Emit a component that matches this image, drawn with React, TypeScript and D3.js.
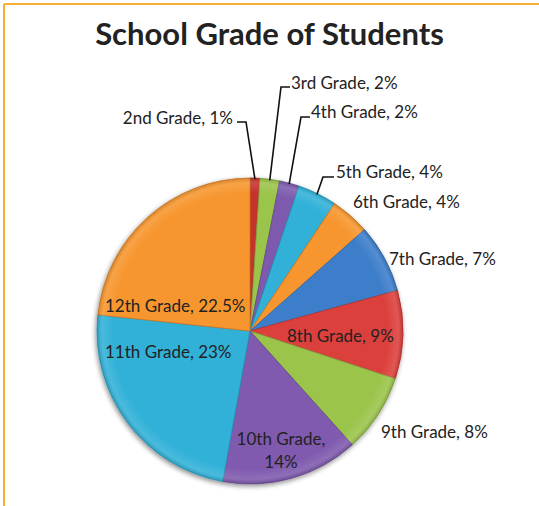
import React from "react";
import * as d3 from "d3";

const grades = ["2nd Grade", "3rd Grade", "4th Grade", "5th Grade", "6th Grade", "7th Grade", "8th Grade", "9th Grade", "10th Grade", "11th Grade", "12th Grade"];
const percents = [1, 2, 2, 4, 4, 7, 9, 8, 14, 23, 22.5];
const colors = ["#C8312C", "#9BC44B", "#7D5AAE", "#30B1D8", "#F7962F", "#3E7ECB", "#DC403C", "#9BC44B", "#7F5AAE", "#30B1D8", "#F7962F"];

// label layout: text start x, baseline y, optional leader (elbow x,y and end x)
const labelLayout: { x: number; y: number; anchor?: string; lines?: number; leader?: [number, number, number] }[] = [
  { x: 233, y: 124, anchor: "end", leader: [246, 122, 237] },
  { x: 291, y: 89, leader: [281, 87, 290] },
  { x: 311, y: 118, leader: [301, 117, 310] },
  { x: 336, y: 178, leader: [323, 177, 334] },
  { x: 353, y: 208 },
  { x: 389, y: 265 },
  { x: 287, y: 342 },
  { x: 381, y: 438 },
  { x: 281, y: 445, anchor: "middle", lines: 2 },
  { x: 105, y: 358 },
  { x: 105, y: 312 },
];

const W = 539, H = 506;
const cx = 250, cy = 331, R = 153;

export default function App() {
  const pie = d3.pie<number>().sort(null).startAngle(0).endAngle(2 * Math.PI).value((d) => d);
  const arcs = pie(percents);
  const arc = d3.arc<d3.PieArcDatum<number>>().innerRadius(0).outerRadius(R);
  const font = "Lato, 'Open Sans', sans-serif";
  return (
    <svg width={W} height={H} style={{ position: "absolute", left: 0, top: 0, background: "#fff" }}>
      <defs>
        <filter id="sh" x="-20%" y="-20%" width="140%" height="140%">
          <feGaussianBlur in="SourceAlpha" stdDeviation="2.5" />
          <feOffset dx="-1" dy="2" result="b" />
          <feComponentTransfer><feFuncA type="linear" slope="0.45" /></feComponentTransfer>
          <feMerge><feMergeNode /><feMergeNode in="SourceGraphic" /></feMerge>
        </filter>
        <radialGradient id="bevel" cx="0.5" cy="0.5" r="0.5">
          <stop offset="0.9" stopColor="#fff" stopOpacity="0" />
          <stop offset="0.97" stopColor="#fff" stopOpacity="0.12" />
          <stop offset="1" stopColor="#000" stopOpacity="0.12" />
        </radialGradient>
      </defs>
      <line x1={4} y1={4} x2={W} y2={4} stroke="#F4B035" strokeWidth={2} />
      <line x1={4} y1={4} x2={4} y2={H} stroke="#F4B035" strokeWidth={2} />
      <text x={269.5} y={45} textAnchor="middle" fontFamily={font} fontWeight="bold" fontSize={31} fill="#222">
        School Grade of Students
      </text>
      <g transform={`translate(${cx},${cy})`}>
        <g filter="url(#sh)">
          {arcs.map((a, i) => (
            <path key={i} d={arc(a) || ""} fill={colors[i]} stroke={d3.color(colors[i])!.darker(0.6).toString()} strokeWidth={0.8} />
          ))}
        </g>
        <circle r={R} fill="url(#bevel)" />
      </g>
      {arcs.map((a, i) => {
        const L = labelLayout[i];
        const mid = (a.startAngle + a.endAngle) / 2;
        const px = cx + Math.sin(mid) * (R - 1);
        const py = cy - Math.cos(mid) * (R - 1);
        const text = `${grades[i]}, ${percents[i]}%`;
        return (
          <g key={i}>
            {L.leader && (
              <polyline
                points={`${px},${py} ${L.leader[0]},${L.leader[1]} ${L.leader[2]},${L.leader[1]}`}
                fill="none"
                stroke="#111"
                strokeWidth={1.6}
              />
            )}
            {L.lines === 2 ? (
              <text x={L.x} y={L.y} textAnchor="middle" fontFamily={font} fontSize={17} fill="#222">
                <tspan x={L.x} y={L.y}>{grades[i] + ","}</tspan>
                <tspan x={L.x} y={L.y + 23}>{percents[i] + "%"}</tspan>
              </text>
            ) : (
              <text x={L.x} y={L.y} textAnchor={L.anchor || "start"} fontFamily={font} fontSize={17} fill="#222">
                {text}
              </text>
            )}
          </g>
        );
      })}
    </svg>
  );
}
